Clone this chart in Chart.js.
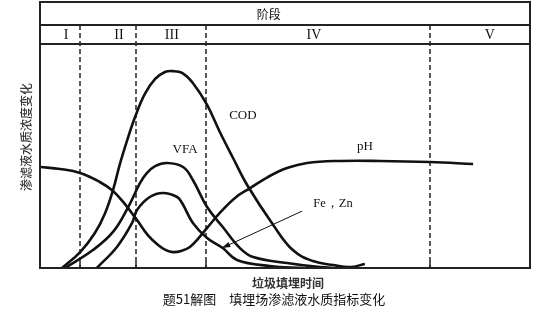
<!DOCTYPE html>
<html>
<head>
<meta charset="utf-8">
<title>填埋场渗滤液水质指标变化</title>
<script src="https://cdn.jsdelivr.net/npm/chart.js@4.4.0/dist/chart.umd.min.js"></script>
<style>
  html, body { margin: 0; padding: 0; background: #fff; }
  #wrap { width: 553px; height: 323px; }
</style>
</head>
<body>
<div id="wrap"><canvas id="chart" width="553" height="323"></canvas></div>
<script>
// values (time 0-100, relative level 0-100)
const phaseNames = ['I', 'II', 'III', 'IV', 'V'];
const phaseBounds = [8.2, 19.6, 33.9, 79.6];

const codTime = [4.5, 8.2, 11.2, 13.3, 14.9, 16.3, 17.8, 19.4, 21.4, 23.5, 25.5, 27.1, 29.0, 31.2, 34.1, 36.7, 39.4, 42.4, 47.6, 51.6, 55.7, 59.8, 63.3, 66.3];
const codLevel = [0, 7.1, 15.6, 24.6, 34.8, 46.4, 57.1, 67.4, 77.7, 84.4, 87.5, 87.9, 87.1, 82.6, 72.8, 60.7, 49.1, 36.6, 19.2, 8.0, 3.1, 1.3, 0.4, 1.8];

const phTime = [0, 4.1, 8.2, 12.2, 14.9, 17.3, 19.8, 22.0, 24.1, 25.7, 27.1, 28.8, 30.6, 32.2, 34.1, 36.7, 39.8, 42.9, 46.5, 50.4, 54.5, 61.2, 69.4, 79.6, 88.4];
const phLevel = [45.1, 44.2, 42.4, 38.4, 34.4, 28.6, 21.4, 14.7, 10.3, 8.0, 7.1, 7.6, 9.4, 12.9, 17.9, 24.6, 31.3, 35.7, 40.6, 44.6, 46.9, 47.8, 47.8, 47.3, 46.4];

const vfaTime = [5.1, 10.8, 14.9, 18.0, 20.4, 21.8, 23.5, 25.9, 29.2, 31.2, 34.1, 37.3, 40.8, 43.5, 50.4, 57.1, 60.6];
const vfaLevel = [0, 8.0, 16.1, 27.2, 37.9, 42.4, 45.5, 46.9, 45.1, 39.3, 27.2, 18.3, 8.9, 4.9, 2.2, 0.4, 0];

const feTime = [11.6, 15.7, 18.8, 19.8, 22.4, 25.1, 28.0, 29.0, 31.2, 34.1, 37.3, 40.2, 46.9, 53.7];
const feLevel = [0, 9.4, 20.1, 25.9, 31.7, 33.5, 31.7, 29.0, 20.1, 13.4, 8.9, 3.6, 0.9, 0];

// pointer from the Fe, Zn label to its curve
const arrowTime = [53.5, 37.1];
const arrowLevel = [25.4, 8.9];

const toPoints = (xs, ys) => xs.map((x, i) => ({ x: x, y: ys[i] }));

// where the text goes (data units), kept apart from the values
const phaseLabelAt = [5.3, 16.1, 26.9, 55.9, 91.8];
const curveLabelAt = {
  'COD': [41.4, 67.9],
  'VFA': [29.6, 52.7],
  'pH': [66.3, 54.0],
  'Fe，Zn': [59.8, 28.6]
};

const cjk = '"Noto Sans CJK SC", "Noto Sans", sans-serif';
const serif = '"Liberation Serif", "DejaVu Serif", serif';

const decorPlugin = {
  id: 'decor',
  beforeDatasetsDraw(chart) {
    const ctx = chart.ctx;
    const ca = chart.chartArea;
    const xs = chart.scales.x;
    ctx.save();
    // phase boundaries
    ctx.strokeStyle = '#222';
    ctx.lineWidth = 1.5;
    ctx.setLineDash([5, 3]);
    phaseBounds.forEach(b => {
      const px = Math.round(xs.getPixelForValue(b));
      ctx.beginPath();
      ctx.moveTo(px, 25);
      ctx.lineTo(px, ca.bottom);
      ctx.stroke();
    });
    ctx.restore();
  },
  afterDatasetsDraw(chart) {
    const ctx = chart.ctx;
    const ca = chart.chartArea;
    const xs = chart.scales.x;
    const ys = chart.scales.y;
    ctx.save();

    // frame and header rows
    ctx.strokeStyle = '#222';
    ctx.lineWidth = 2;
    ctx.strokeRect(ca.left, 2, ca.right - ca.left, ca.bottom - 2);
    ctx.beginPath();
    ctx.moveTo(ca.left, 25); ctx.lineTo(ca.right, 25);
    ctx.moveTo(ca.left, ca.top); ctx.lineTo(ca.right, ca.top);
    ctx.stroke();

    // small ticks on the time axis
    ctx.lineWidth = 1.5;
    ctx.beginPath();
    phaseBounds.forEach(b => {
      const px = Math.round(xs.getPixelForValue(b));
      ctx.moveTo(px, ca.bottom);
      ctx.lineTo(px, ca.bottom - 6);
    });
    ctx.stroke();

    ctx.fillStyle = '#111';
    ctx.textAlign = 'center';
    ctx.textBaseline = 'middle';
    ctx.font = '12px ' + cjk;
    ctx.fillText('阶段', xs.getPixelForValue(46.7), 14);

    ctx.font = '14px ' + serif;
    phaseNames.forEach((n, i) => {
      ctx.fillText(n, xs.getPixelForValue(phaseLabelAt[i]), 35);
    });

    // curve names
    chart.data.datasets.forEach(ds => {
      const at = curveLabelAt[ds.label];
      if (!at) return;
      ctx.font = (ds.label === 'Fe，Zn' ? '12.5px ' : '13px ') + serif;
      ctx.fillText(ds.label, xs.getPixelForValue(at[0]), ys.getPixelForValue(at[1]));
    });

    // arrow head
    const x0 = xs.getPixelForValue(arrowTime[0]), y0 = ys.getPixelForValue(arrowLevel[0]);
    const x1 = xs.getPixelForValue(arrowTime[1]), y1 = ys.getPixelForValue(arrowLevel[1]);
    const ang = Math.atan2(y1 - y0, x1 - x0);
    ctx.beginPath();
    ctx.moveTo(x1, y1);
    ctx.lineTo(x1 - 9 * Math.cos(ang - 0.3), y1 - 9 * Math.sin(ang - 0.3));
    ctx.lineTo(x1 - 9 * Math.cos(ang + 0.3), y1 - 9 * Math.sin(ang + 0.3));
    ctx.closePath();
    ctx.fill();

    // axis titles and caption
    ctx.fillStyle = '#333';
    ctx.font = 'bold 12px ' + cjk;
    ctx.fillText('垃圾填埋时间', 288, 283);
    ctx.save();
    ctx.translate(26, 137);
    ctx.rotate(-Math.PI / 2);
    ctx.fillStyle = '#3a3a3a';
    ctx.font = '500 12px ' + cjk;
    ctx.fillText('渗滤液水质浓度变化', 0, 0);
    ctx.restore();

    ctx.fillStyle = '#111';
    ctx.font = '13px ' + cjk;
    ctx.fillText('题51解图　填埋场渗滤液水质指标变化', 274, 299);
    ctx.restore();
  }
};

const curveStyle = {
  borderColor: '#111',
  borderWidth: 2.6,
  pointRadius: 0,
  fill: false,
  tension: 0.4
};

new Chart(document.getElementById('chart'), {
  type: 'line',
  data: {
    datasets: [
      Object.assign({ label: 'COD', data: toPoints(codTime, codLevel) }, curveStyle),
      Object.assign({ label: 'pH', data: toPoints(phTime, phLevel) }, curveStyle),
      Object.assign({ label: 'VFA', data: toPoints(vfaTime, vfaLevel) }, curveStyle),
      Object.assign({ label: 'Fe，Zn', data: toPoints(feTime, feLevel) }, curveStyle),
      { label: 'arrow', data: toPoints(arrowTime, arrowLevel), borderColor: '#111', borderWidth: 1, pointRadius: 0, tension: 0 }
    ]
  },
  options: {
    responsive: false,
    animation: false,
    layout: { padding: { left: 40, right: 23, top: 44, bottom: 55 } },
    plugins: { legend: { display: false }, tooltip: { enabled: false } },
    scales: {
      x: { type: 'linear', min: 0, max: 100, display: false },
      y: { min: 0, max: 100, display: false }
    }
  },
  plugins: [decorPlugin]
});
</script>
</body>
</html>
